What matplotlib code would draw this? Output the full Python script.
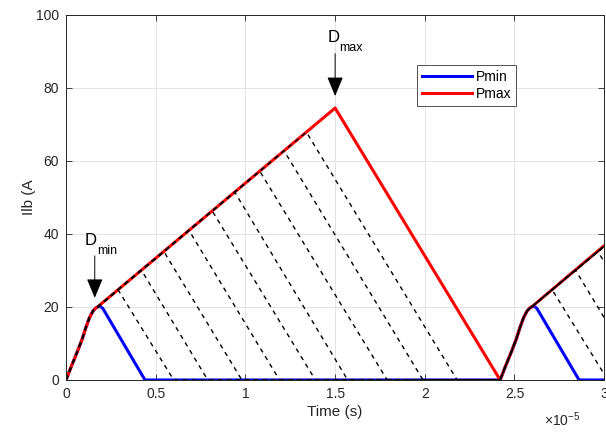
import matplotlib.pyplot as plt
import numpy as np

plt.rcParams['font.family'] = ['Liberation Sans', 'DejaVu Sans']

# time in units of 1e-5 s, current in A
period = 2.42
rise_t = [0.0, 0.03, 0.06, 0.09, 0.11, 0.13, 0.15, 0.165, 0.175]
rise_i = [0.0, 3.8, 7.4, 11.2, 14.3, 17.0, 18.9, 19.7, 20.0]

# Pmin (blue)
pmin_t = [0.19, 0.205, 0.44, 2.42]
pmin_i = [20.2, 19.6, 0.0, 0.0]
pmin2_t = [2.61, 2.625, 2.86, 3.0]
pmin2_i = [20.2, 19.6, 0.0, 0.0]

# Pmax (red)
pmax_t = [1.5, 2.42]
pmax_i = [74.5, 0.0]
pmax2_t = [3.0]
pmax2_i = [36.8]

# intermediate duty cycles (black dashed)
duty_peak_t = [0.29, 0.42, 0.545, 0.685, 0.815, 0.94, 1.08, 1.215, 1.34]
duty_peak_i = [24.7, 30.1, 35.2, 41.0, 46.3, 51.5, 57.2, 62.8, 67.9]
duty_end_t = [0.60, 0.79, 0.98, 1.19, 1.39, 1.57, 1.79, 1.99, 2.18]
slope_up = (pmax_i[0] - rise_i[-1]) / (pmax_t[0] - rise_t[-1])

fig = plt.figure(figsize=(6.06, 4.32), dpi=100)
ax = fig.add_axes([0.109, 0.1204, 0.888, 0.845])

rt = np.array(rise_t)
ri = np.array(rise_i)

# blue
bt = np.concatenate([rt, pmin_t, rt + period, pmin2_t])
bi = np.concatenate([ri, pmin_i, ri, pmin2_i])
ax.plot(bt, bi, color='#0000ff', lw=2.2, label='Pmin', solid_joinstyle='round')

# red
redt = np.concatenate([rt, pmax_t, rt + period, pmax2_t])
redi = np.concatenate([ri, pmax_i, ri, pmax2_i])
ax.plot(redt, redi, color='#ff0000', lw=2.2, label='Pmax', solid_joinstyle='round')

# dashed: each duty cycle over both periods
for tp, ip, te in zip(duty_peak_t, duty_peak_i, duty_end_t):
    xs = list(rt) + [tp, te, period] + list(rt + period)
    ys = list(ri) + [ip, 0.0, 0.0] + list(ri)
    if tp + period < 3.0:
        xs += [tp + period, te + period]
        ys += [ip, 0.0]
    else:
        xs += [3.0]
        ys += [ri[-1] + slope_up * (3.0 - rt[-1] - period)]
    ax.plot(xs, ys, color='k', lw=1.0, dashes=(3.2, 3.2))

# annotations
ax.text(0.106, 37, 'D', fontsize=12, color='k')
ax.text(0.175, 34.6, 'min', fontsize=9, color='k')
ax.annotate('', xy=(0.16, 22.5), xytext=(0.16, 34.0),
            arrowprops=dict(arrowstyle='-|>,head_length=1.2,head_width=0.5',
                            color='k', lw=0.7, shrinkA=0, shrinkB=0))
ax.text(1.456, 92.6, 'D', fontsize=12, color='k')
ax.text(1.525, 90.2, 'max', fontsize=9, color='k')
ax.annotate('', xy=(1.5, 77.8), xytext=(1.5, 89.4),
            arrowprops=dict(arrowstyle='-|>,head_length=1.2,head_width=0.5',
                            color='k', lw=0.7, shrinkA=0, shrinkB=0))

ax.set_xlim(0, 3)
ax.set_ylim(0, 100)
ax.set_xticks(np.arange(0, 3.01, 0.5))
ax.set_xticklabels(['0', '0.5', '1', '1.5', '2', '2.5', '3'])
ax.set_yticks(np.arange(0, 101, 20))
ax.grid(True, color='#e3e3e3', lw=0.7)
ax.set_axisbelow(True)
ax.tick_params(direction='in', top=True, right=True, length=4, width=0.6,
               labelsize=10, colors='#262626', pad=5)
for s in ax.spines.values():
    s.set_color('#262626')
    s.set_linewidth(0.7)

ax.set_xlabel('Time (s)', fontsize=11, color='#262626', labelpad=3)
ax.set_ylabel('Ilb (A', fontsize=11, color='#262626', labelpad=0)
fig.text(0.957, 0.008, r'$\mathregular{\times 10^{-5}}$', fontsize=10,
         color='#262626', ha='right', va='bottom')

leg = ax.legend(loc='upper left', bbox_to_anchor=(0.652, 0.863), fontsize=10,
                handlelength=3.6, frameon=True, fancybox=False, borderpad=0.35,
                labelspacing=0.25, handletextpad=0.3, borderaxespad=0)
leg.get_frame().set_edgecolor('#262626')
leg.get_frame().set_linewidth(0.7)

fig.savefig('out.png', dpi=100)
